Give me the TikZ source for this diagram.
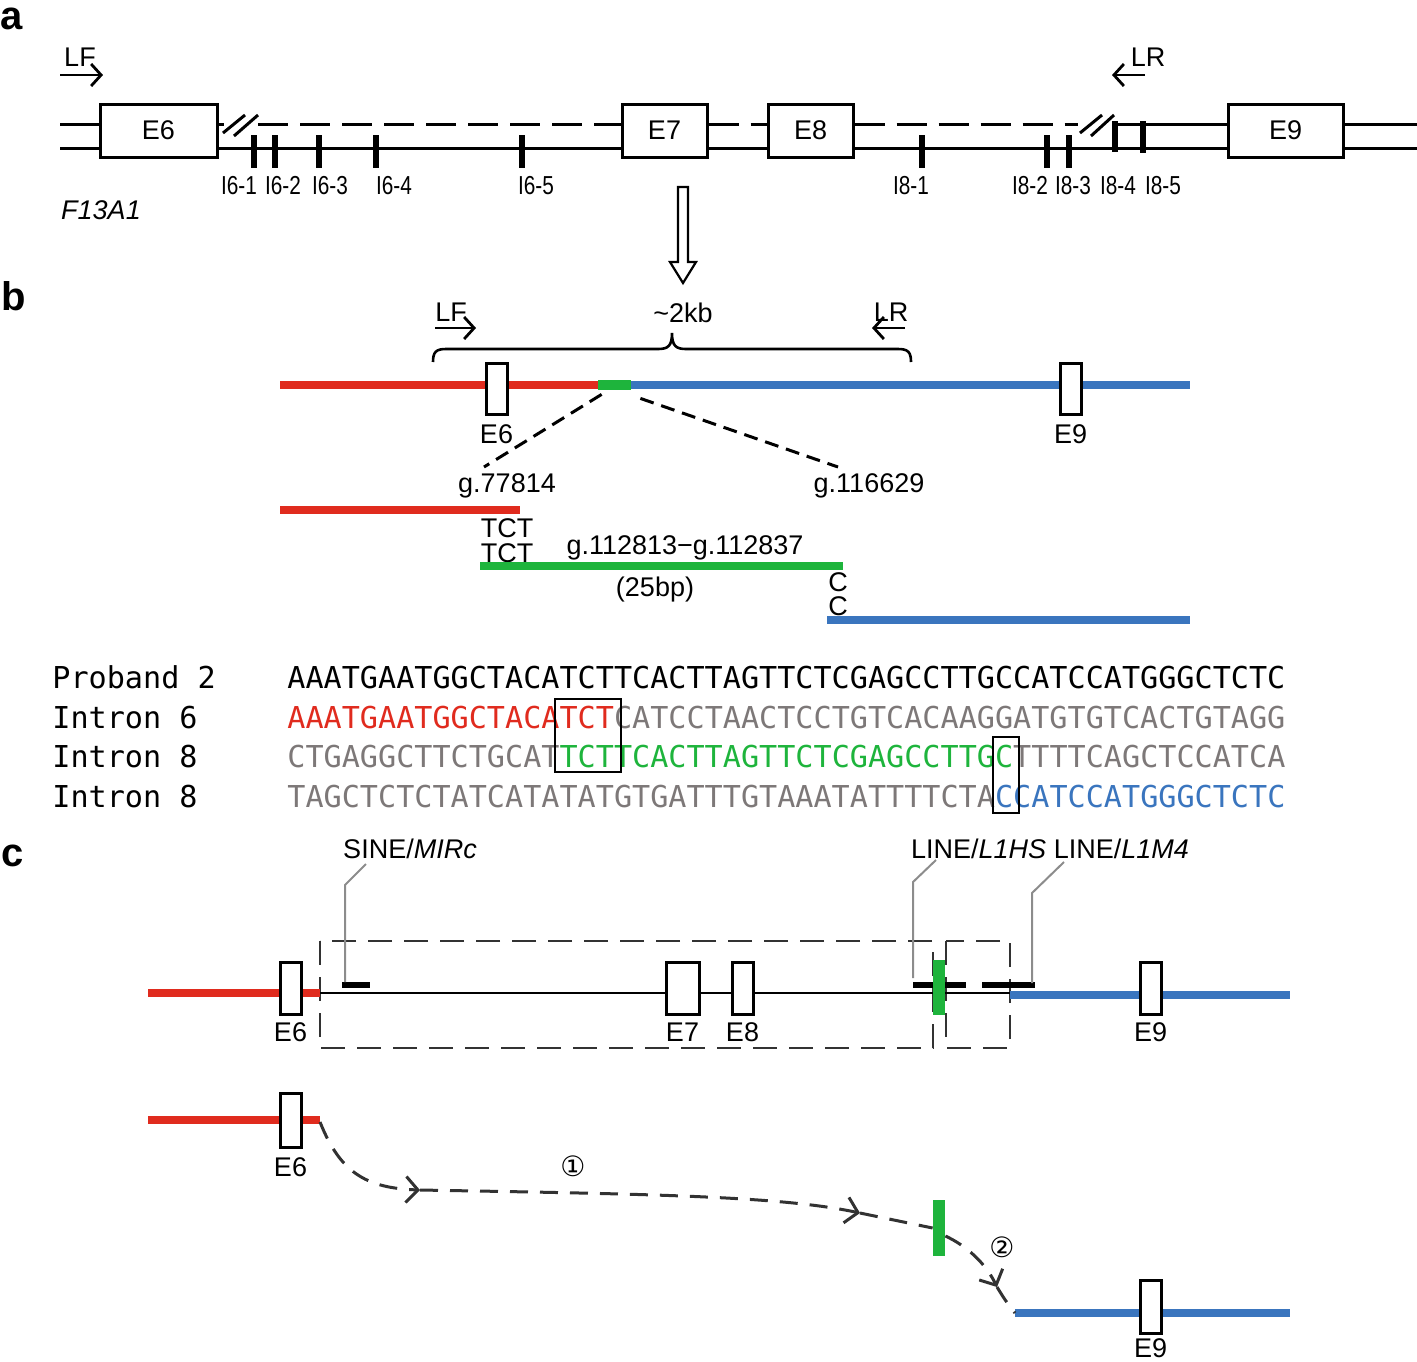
\documentclass[tikz,border=0pt]{standalone}
\usepackage{fontspec}
\setmainfont{Liberation Sans}
\newfontfamily\seqfont{DejaVu Sans Mono}
\newfontfamily\narrowfont[FakeStretch=0.8]{Liberation Sans}
\newfontfamily\circfont{DejaVu Sans}
\usetikzlibrary{arrows.meta,positioning}
\definecolor{frag red}{RGB}{224,43,30}
\definecolor{frag green}{RGB}{30,180,60}
\definecolor{frag blue}{RGB}{58,117,190}
\definecolor{seq gray}{RGB}{125,120,120}
\definecolor{box gray}{RGB}{50,50,50}
\definecolor{leader gray}{RGB}{140,140,140}
\def\labelfont{\fontsize{13.5}{16}\selectfont}
\def\seqsize{\seqfont\fontsize{15.07}{18}\selectfont}
\tikzset{panel/.style={anchor=base west, inner sep=0pt, font=\fontsize{20}{24}\selectfont\bfseries},
    txt/.style={inner sep=0pt, font=\labelfont},
    ilbl/.style={inner sep=0pt, font=\narrowfont\fontsize{13}{15}\selectfont},
    seq/.style={anchor=base west, inner sep=0pt, font=\seqsize},
    exon/.style={draw, line width=1.5pt, fill=white, inner sep=0pt,
      minimum width=10.5pt, minimum height=25.5pt},
    big exon/.style={exon, minimum height=26.5pt, font=\labelfont},
    gene/.style={line width=1.5pt},
    broken/.style={dash pattern=on 15pt off 6pt},
    ibar/.style={line width=3pt},
    primer/.style={line width=1.4pt, -{Straight Barb[length=5pt,width=11pt]}},
    frag/.style={line width=4pt},
    cut/.style={line width=1.5pt, dash pattern=on 7pt off 4pt},
    seqbox/.style={line width=1.3pt},
    region/.style={line width=1.4pt, box gray, dash pattern=on 12pt off 6pt},
    leader/.style={line width=1pt, leader gray},
    rbar/.style={draw=none, fill=frag green, inner sep=0pt, minimum width=6pt},
    flow/.style={line width=1.5pt, box gray, dash pattern=on 9pt off 6pt},
    flowtip/.style={flow, -{Straight Barb[length=6pt,width=13pt]}},
    circ/.style={inner sep=0pt, font=\circfont\fontsize{14}{16}\selectfont}}

\begin{document}
\begin{tikzpicture}[x=0.5pt, y=-0.5pt]
    \useasboundingbox (0,0) rectangle (1417,1361);

    % ---------- a: gene structure ----------
    \node[panel] (pa) at (0,29) {a};
    \node[big exon, minimum width=58.5pt] (E6a) at (158.5,130.5) {E6};
    \node[big exon, minimum width=42.5pt] (E7a) at (664.5,130.5) {E7};
    \node[big exon, minimum width=42.5pt] (E8a) at (810.5,130.5) {E8};
    \node[big exon, minimum width=57.5pt] (E9a) at (1285.5,130.5) {E9};
    % upper strand
    \draw[gene] (60,124) -- (E6a.west |- 0,124);
    \draw[gene] (E6a.east |- 0,124) -- (224,124);
    \draw[gene, broken] (258,124) -- (E7a.west |- 0,124);
    \draw[gene, broken] (E7a.east |- 0,124) -- (E8a.west |- 0,124);
    \draw[gene, broken] (E8a.east |- 0,124) -- (1078,124);
    \draw[gene] (1114,124) -- (E9a.west |- 0,124);
    \draw[gene] (E9a.east |- 0,124) -- (1417,124);
    % lower strand
    \draw[gene] (60,148) -- (E6a.west |- 0,148);
    \draw[gene] (E6a.east |- 0,148) -- (E7a.west |- 0,148);
    \draw[gene] (E7a.east |- 0,148) -- (E8a.west |- 0,148);
    \draw[gene] (E8a.east |- 0,148) -- (E9a.west |- 0,148);
    \draw[gene] (E9a.east |- 0,148) -- (1417,148);
    % breaks
    \draw[gene] (223,133) -- (245,115);
    \draw[gene] (234,136) -- (258,115);
    \draw[gene] (1080,133) -- (1102,115);
    \draw[gene] (1091,136) -- (1114,115);
    % intronic elements
    \draw[ibar] (254,135) -- (254,168);
    \draw[ibar] (275,135) -- (275,168);
    \draw[ibar] (319,135) -- (319,168);
    \draw[ibar] (376,135) -- (376,168);
    \draw[ibar] (522,135) -- (522,168);
    \draw[ibar] (922,135) -- (922,168);
    \draw[ibar] (1047,135) -- (1047,168);
    \draw[ibar] (1069,135) -- (1069,168);
    \draw[ibar] (1115,121) -- (1115,152);
    \draw[ibar] (1143,121) -- (1143,153);
    \node[ilbl] (i61) at (239,186) {I6-1};
    \node[ilbl] (i62) at (283,186) {I6-2};
    \node[ilbl] (i63) at (330,186) {I6-3};
    \node[ilbl] (i64) at (394,186) {I6-4};
    \node[ilbl] (i65) at (536,186) {I6-5};
    \node[ilbl] (i81) at (911,186) {I8-1};
    \node[ilbl] (i82) at (1030,186) {I8-2};
    \node[ilbl] (i83) at (1073,186) {I8-3};
    \node[ilbl] (i84) at (1118,186) {I8-4};
    \node[ilbl] (i85) at (1163,186) {I8-5};
    \node[txt, font=\labelfont\itshape] (gname) at (101,210) {F13A1};
    % primers
    \node[txt] (lfa) at (80,57) {LF};
    \draw[primer] (60,75) -- (103,75);
    \node[txt] (lra) at (1148,57) {LR};
    \draw[primer] (1145,75) -- (1112,75);
    % zoom arrow
    \draw[line width=1.1pt] (678,187) -- (688,187) -- (688,262) -- (696,262)
      -- (683,283) -- (670,262) -- (678,262) -- cycle;

    % ---------- b: junction ----------
    \node[panel] (pb) at (1,310) {b};
    \node[txt] (lfb) at (451,312) {LF};
    \draw[primer] (435,328) -- (476,328);
    \node[txt] (kb) at (683,313) {\textasciitilde2kb};
    \node[txt] (lrb) at (891,312) {LR};
    \draw[primer] (905,328) -- (872,328);
    \draw[line width=1.3pt] (433,362) .. controls (433,352) and (436,349) .. (446,349)
      -- (658,349) .. controls (668,349) and (672,346) .. (672,333)
      .. controls (672,346) and (676,349) .. (686,349) -- (898,349)
      .. controls (908,349) and (911,352) .. (911,362);
    \node[rbar, minimum width=16.5pt, minimum height=5pt] (gseg) at (614.5,385) {};
    \draw[frag, frag red] (280,385) -- (gseg.west);
    \draw[frag, frag blue] (gseg.east) -- (1190,385);
    \node[exon] (E6b) at (496.5,388.5) {};
    \node[exon] (E9b) at (1070.5,388.5) {};
    \node[txt, below=4.5pt of E6b] (e6b) {E6};
    \node[txt, below=4.5pt of E9b] (e9b) {E9};
    \node[txt] (g77) at (507,486) {g.77814};
    \node[txt] (g116) at (869,486) {g.116629};
    \coordinate (cutl) at (484,467);
    \coordinate (cutr) at (838,467);
    \draw[cut] ([shift={(2pt,-2pt)}]gseg.south west) -- (cutl);
    \draw[cut] ([shift={(4.5pt,-4pt)}]gseg.south east) -- (cutr);
    \draw[frag, frag red] (280,510) -- (520,510);
    \node[txt] (tct1) at (507,528) {TCT};
    \node[txt] (tct2) at (507,553) {TCT};
    \node[txt] (gpos) at (685,548) {g.112813−g.112837};
    \draw[frag, frag green] (480,566) -- (843,566);
    \node[txt] (bp) at (655,590) {(25bp)};
    \node[txt] (c1) at (838,582) {C};
    \node[txt] (c2) at (838,606) {C};
    \draw[frag, frag blue] (827,620) -- (1190,620);

    % sequences
    \node[seq] (s0l) at (52,688) {Proband 2};
    \node[seq] (s1l) at (52,728) {Intron 6};
    \node[seq] (s2l) at (52,767) {Intron 8};
    \node[seq] (s3l) at (52,807) {Intron 8};
    \node[seq] (s0) at (287,688) {AAATGAATGGCTACATCTTCACTTAGTTCTCGAGCCTTGCCATCCATGGGCTCTC};
    \node[seq] (s1) at (287,728) {\color{frag red}AAATGAATGGCTACATCT\color{seq gray}CATCCTAACTCCTGTCACAAGGATGTGTCACTGTAGG};
    \node[seq] (s2) at (287,767) {\color{seq gray}CTGAGGCTTCTGCAT\color{frag green}TCTTCACTTAGTTCTCGAGCCTTGC\color{seq gray}TTTTCAGCTCCATCA};
    \node[seq] (s3) at (287,807) {\color{seq gray}TAGCTCTCTATCATATATGTGATTTGTAAATATTTTCTA\color{frag blue}CCATCCATGGGCTCTC};
    \draw[seqbox] (555,699) rectangle (621,772);
    \draw[seqbox] (993,737) rectangle (1019,813);

    % ---------- c: model ----------
    \node[panel] (pc) at (1,866) {c};
    \draw[region] (320,941) rectangle (933,1048);
    \draw[region] (946,941) rectangle (1010,1048);
    \draw[frag, frag red] (148,993) -- (320,993);
    \draw[line width=1pt] (320,993) -- (1010,993);
    \draw[frag, frag blue] (1010,995) -- (1290,995);
    \draw[line width=3pt] (342,985) -- (370,985);
    \draw[line width=3.3pt] (913,985) -- (966,985);
    \draw[line width=3.3pt] (982,985) -- (1035,985);
    \draw[leader] (345,982) -- (345,885) -- (366,864);
    \draw[leader] (913,978) -- (913,882) -- (936,860);
    \draw[leader] (1032,983) -- (1032,893) -- (1064,862);
    \node[txt] (sine) at (410,849) {SINE/\textit{MIRc}};
    \node[txt] (line) at (1050,849) {LINE/\textit{L1HS} LINE/\textit{L1M4}};
    \node[rbar, minimum height=27.5pt] (gbarc) at (939,987.5) {};
    \node[exon, minimum height=26pt] (E6c) at (290.5,988) {};
    \node[exon, minimum height=26pt, minimum width=16.5pt] (E7c) at (682.5,988) {};
    \node[exon, minimum height=26pt] (E8c) at (742.5,988) {};
    \node[exon, minimum height=26pt] (E9c) at (1150.5,988) {};
    \node[txt, below=3.5pt of E6c] (e6c) {E6};
    \node[txt, below=3.5pt of E7c] (e7c) {E7};
    \node[txt, below=3.5pt of E8c] (e8c) {E8};
    \node[txt, below=3.5pt of E9c] (e9c) {E9};

    % joining steps
    \draw[frag, frag red] (148,1120) -- (320,1120);
    \node[exon, minimum height=27pt] (E6d) at (290.5,1120) {};
    \node[txt, below=4.5pt of E6d] (e6d) {E6};
    \node[rbar, minimum height=28pt] (gbard) at (939,1228) {};
    \draw[frag, frag blue] (1015,1313) -- (1290,1313);
    \node[exon, minimum height=26.5pt] (E9d) at (1150.5,1306.5) {};
    \node[txt, below=2pt of E9d] (e9d) {E9};
    \coordinate (redtip) at (320,1122);
    \coordinate (arrA) at (420,1190);
    \coordinate (arrB) at (860,1213);
    \coordinate (arrC) at (997,1287);
    \coordinate (bluetip) at (1015,1313);
    \draw[flowtip] (redtip) .. controls (340,1172) and (365,1188) .. (arrA);
    \draw[flowtip] (arrA) .. controls (650,1194) and (780,1196) .. (arrB);
    \draw[flow] (arrB) -- (gbard.west);
    \draw[flowtip] ([yshift=-4pt]gbard.east) .. controls (965,1245) and (985,1262) .. (arrC);
    \draw[flow] (arrC) .. controls (1005,1300) .. (bluetip);
    \node[circ] (st1) at (573,1166) {①};
    \node[circ] (st2) at (1002,1247) {②};
\end{tikzpicture}
\end{document}
